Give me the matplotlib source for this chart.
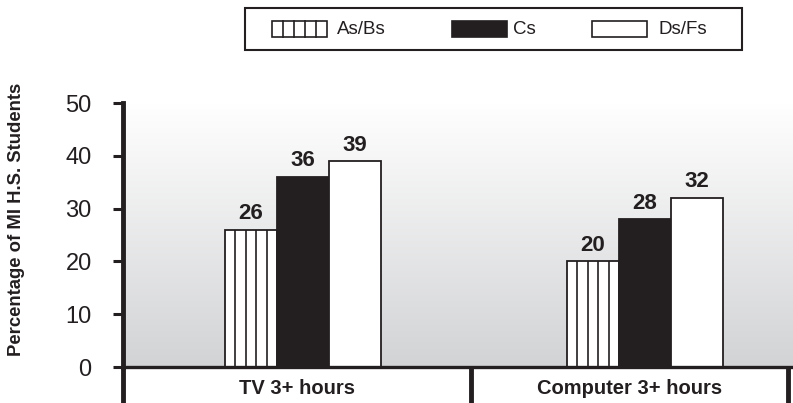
import numpy as np
import matplotlib
matplotlib.use('Agg')
import matplotlib.pyplot as plt
from matplotlib.colors import LinearSegmentedColormap
from matplotlib.patches import Rectangle
import matplotlib.transforms as mtransforms

plt.rcParams['font.family'] = ['Liberation Sans', 'DejaVu Sans']

# data
categories = ['TV 3+ hours', 'Computer 3+ hours']
groups = ['As/Bs', 'Cs', 'Ds/Fs']
as_bs = [26, 20]
cs = [36, 28]
ds_fs = [39, 32]

ink = '#231f20'
W, H = 793, 403

fig = plt.figure(figsize=(W / 100, H / 100), dpi=100)
ax = fig.add_axes([123 / W, 1 - 367 / H, 1 - 123 / W, (367 - 103) / H])

xlim = (-0.526, 1.433)
ax.set_xlim(*xlim)
ax.set_ylim(0, 50)

# gradient background
cmap = LinearSegmentedColormap.from_list('bg', ['#ffffff', '#d2d3d5'])
ax.imshow(np.linspace(0, 1, 256).reshape(-1, 1), cmap=cmap, aspect='auto',
          extent=[xlim[0], xlim[1], 0, 50], zorder=0)

x = np.arange(len(categories))
w = 0.152
b1 = ax.bar(x - w, as_bs, w, color='white', edgecolor=ink, linewidth=1.3, zorder=2)
b2 = ax.bar(x, cs, w, color=ink, edgecolor=ink, linewidth=1.3, zorder=2)
b3 = ax.bar(x + w, ds_fs, w, color='white', edgecolor=ink, linewidth=1.3, zorder=2)

# vertical stripes for As/Bs
for r in b1:
    x0, bw, bh = r.get_x(), r.get_width(), r.get_height()
    ax.vlines([x0 + bw * k / 5 for k in range(1, 5)], 0, bh, color=ink, lw=1.2, zorder=3)

for bars in (b1, b2, b3):
    ax.bar_label(bars, padding=4, fontsize=16, fontweight='bold', color=ink)

# axes styling
for s in ('top', 'right'):
    ax.spines[s].set_visible(False)
ax.spines['left'].set_linewidth(3.5)
ax.spines['bottom'].set_linewidth(2.4)
ax.spines['left'].set_color(ink)
ax.spines['bottom'].set_color(ink)
ax.set_yticks(range(0, 51, 10))
ax.tick_params(axis='y', length=7.5, width=2.2, color=ink, pad=15,
               labelsize=17, labelcolor=ink)
ax.set_xticks([])

fig.text(17 / W, 1 - 219 / H, 'Percentage of MI H.S. Students', rotation=90,
         ha='center', va='center', fontsize=13.3, fontweight='bold', color=ink)

# category boxes under the axis
edges = [xlim[0], 0.491, 1.418]
trans = mtransforms.blended_transform_factory(ax.transData, ax.transAxes)
for e in edges:
    ax.plot([e, e], [0, -0.2], color=ink, lw=3.5, transform=trans, clip_on=False,
            solid_capstyle='butt')
for i, cat in enumerate(categories):
    ax.text((edges[i] + edges[i + 1]) / 2, -0.08, cat, transform=trans,
            ha='center', va='center', fontsize=14.5, fontweight='bold', color=ink)

# legend box
def fx(px):
    return px / W

def fy(py):
    return 1 - py / H

fig.patches.append(Rectangle((fx(245), fy(50)), fx(742) - fx(245), fy(8) - fy(50),
                             transform=fig.transFigure, facecolor='white',
                             edgecolor=ink, lw=1.5))
patch_x = [272, 452, 592]
text_x = [337, 513, 658]
fills = ['white', ink, 'white']
for px, tx, fc, lab in zip(patch_x, text_x, fills, groups):
    fig.patches.append(Rectangle((fx(px), fy(37)), fx(55), fy(21) - fy(37),
                                 transform=fig.transFigure, facecolor=fc,
                                 edgecolor=ink, lw=1.2))
    fig.text(fx(tx), fy(29), lab, ha='left', va='center', fontsize=13.5, color=ink)
for k in range(1, 5):
    xx = fx(272 + 55 * k / 5)
    fig.lines.append(plt.Line2D([xx, xx], [fy(37), fy(21)], transform=fig.transFigure,
                                color=ink, lw=1.2))

fig.savefig('out.png', dpi=100)
